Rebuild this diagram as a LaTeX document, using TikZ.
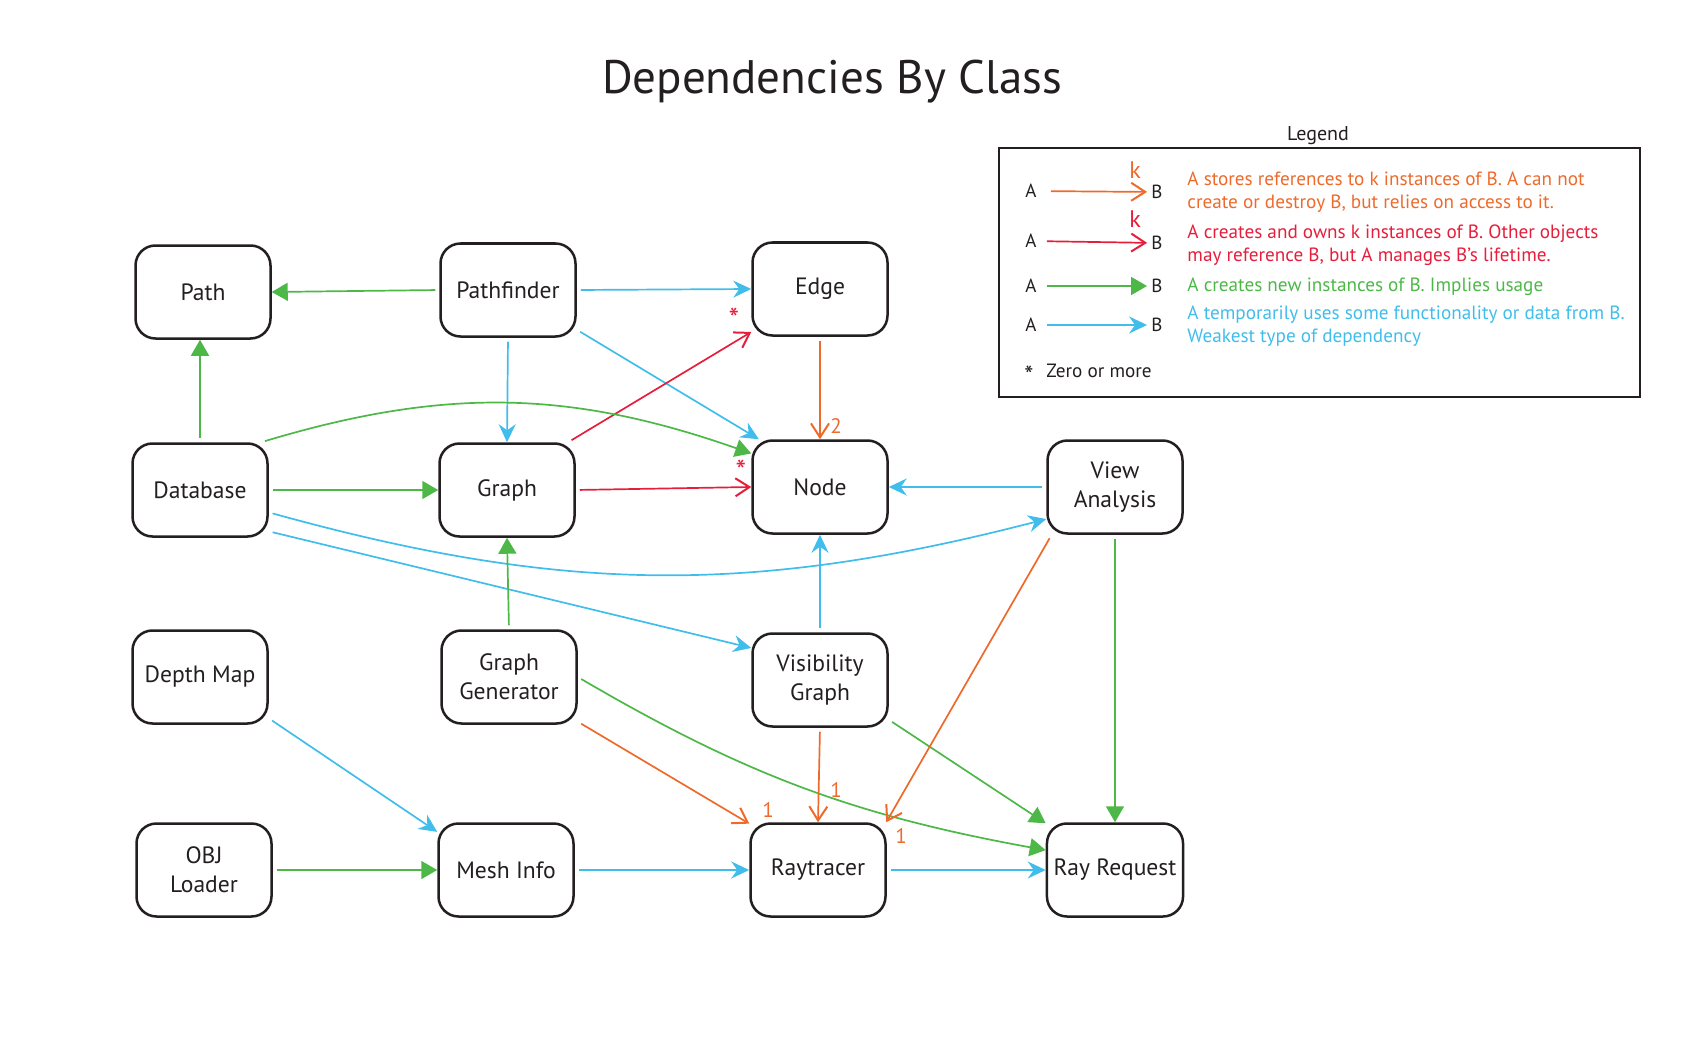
\documentclass[tikz,border=0pt]{standalone}
\usepackage{fontspec}
\setmainfont{PT Sans}
\usetikzlibrary{arrows.meta}
\definecolor{ink}{HTML}{231F20}
\definecolor{dorange}{HTML}{EE6A2B}
\definecolor{dred}{HTML}{E61E3C}
\definecolor{dgreen}{HTML}{4DB848}
\definecolor{dblue}{HTML}{40BDEB}

\begin{document}
\begin{tikzpicture}[
            x = 0.5pt, y = -0.5pt,
            every node/.style={text=ink},
            cls/.style={draw=ink, line width=1.25pt, rounded corners=10pt, minimum width=67.5pt, minimum height=46.5pt, align=center, font=\fontsize{11.8}{14.5}\selectfont},
            line/.style={line width=.85pt, shorten <=2pt},
            refs/.style={line, draw=dorange, -{Straight Barb[length=7pt, width=9pt, line width=1pt]}},
            owns/.style={line, draw=dred, -{Straight Barb[length=7pt, width=9pt, line width=1pt]}},
            makes/.style={line, draw=dgreen, -{Triangle[length=8pt, width=9pt]}},
            uses/.style={line, draw=dblue, -{Stealth[length=9pt, width=8.5pt, inset=3pt]}},
            lbl/.style={font=\fontsize{10.5}{12}\selectfont, inner sep=0pt},
            key/.style={font=\fontsize{9.5}{11}\selectfont, inner sep=0pt},
            legtext/.style={font=\fontsize{9.6}{11.5}\selectfont, align=left, anchor=west, inner sep=0pt},
            ]

        \useasboundingbox (0,0) rectangle (1683,1038);

        \node[font=\fontsize{23.5}{28}\selectfont] (title) at (832,82) {Dependencies By Class};

        \node[cls] (path) at (203,292) {Path};
        \node[cls] (pathfinder) at (508,290) {Pathfinder};
        \node[cls] (graphedge) at (820,289) {Edge};
        \node[cls] (database) at (200,490) {Database};
        \node[cls] (graph) at (507,490) {Graph};
        \node[cls] (graphnode) at (820,487) {Node};
        \node[cls] (view) at (1115,487) {View\\Analysis};
        \node[cls] (depth) at (200,677) {Depth Map};
        \node[cls] (generator) at (509,677) {Graph\\Generator};
        \node[cls] (visibility) at (820,680) {Visibility\\Graph};
        \node[cls] (obj) at (204,870) {OBJ\\Loader};
        \node[cls] (mesh) at (506,870) {Mesh Info};
        \node[cls] (raytracer) at (818,870) {Raytracer};
        \node[cls] (request) at (1115,870) {Ray Request};

        \draw[makes] (pathfinder.west) -- (path.east);
        \draw[uses] (pathfinder.east) -- (graphedge.west);
        \draw[uses] (pathfinder.south) -- (graph.north);
        \draw[uses] (pathfinder.-30) -- (graphnode.142);
        \draw[refs] (graphedge.south) -- (graphnode.north);
        \draw[owns] (graph.38) -- (graphedge.212);
        \draw[owns] (graph.east) -- (graphnode.west);
        \draw[makes] (database.east) -- (graph.west);
        \draw[makes] (database.north) -- (database.north |- path.south);
        \draw[makes] (database.38) to[bend left=18] (graphnode.154);
        \draw[uses] (database.-18) to[bend right=15] (view.205);
        \draw[uses] (database.-31) -- (visibility.155);
        \draw[uses] (view.west) -- (graphnode.east);
        \draw[uses] (visibility.north) -- (graphnode.south);
        \draw[makes] (generator.north) -- (graph.south);
        \draw[refs] (generator.-33) -- (raytracer.146);
        \draw[makes] (generator.east) to[bend right=10] (request.164);
        \draw[refs] (visibility.south) -- (raytracer.north);
        \draw[makes] (visibility.-30) -- (request.146);
        \draw[refs] (view.217) -- (raytracer.35);
        \draw[makes] (view.south) -- (request.north);
        \draw[uses] (depth.-31) -- (mesh.151);
        \draw[makes] (obj.east) -- (mesh.west);
        \draw[uses] (mesh.east) -- (raytracer.west);
        \draw[uses] (raytracer.east) -- (request.west);

        \node[lbl, text=dorange] (two) at (836,426) {2};
        \node[lbl, text=dred, font=\fontsize{15}{15}\selectfont] (star1) at (734,319) {*};
        \node[lbl, text=dred, font=\fontsize{15}{15}\selectfont] (star2) at (741,471) {*};
        \node[lbl, text=dorange] (one1) at (768,810) {1};
        \node[lbl, text=dorange] (one2) at (836,790) {1};
        \node[lbl, text=dorange] (one3) at (901,836) {1};

        \node[key, font=\fontsize{10}{12}\selectfont] (legend) at (1318,136) {Legend};
        \node[draw=ink, line width=1.2pt, minimum width=320.5pt, minimum height=124.5pt] (legendbox) at (1319.5,272.5) {};

        \node[key] (a1) at (1031,191) {A};
        \node[key] (b1) at (1157,192) {B};
        \node[key] (a2) at (1031,241) {A};
        \node[key] (b2) at (1157,243) {B};
        \node[key] (a3) at (1031,286) {A};
        \node[key] (b3) at (1157,286) {B};
        \node[key] (a4) at (1031,325) {A};
        \node[key] (b4) at (1157,325) {B};
        \draw[refs, shorten <=7pt, shorten >=2pt] (a1) -- (b1);
        \draw[owns, shorten <=5pt, shorten >=2pt] (a2) -- (b2);
        \draw[makes, shorten <=5pt, shorten >=2pt] (a3) -- (b3);
        \draw[uses, shorten <=5pt, shorten >=2pt] (a4) -- (b4);
        \node[lbl, text=dorange, font=\fontsize{12}{13}\selectfont] (k1) at (1135,170) {k};
        \node[lbl, text=dred, font=\fontsize{12}{13}\selectfont] (k2) at (1135,219) {k};

        \node[legtext, text=dorange] (t1) at (1187,192) {A stores references to k instances of B. A can not\\create or destroy B, but relies on access to it.};
        \node[legtext, text=dred] (t2) at (1187,245) {A creates and owns k instances of B. Other objects\\may reference B, but A manages B’s lifetime.};
        \node[legtext, text=dgreen] (t3) at (1187,287) {A creates new instances of B. Implies usage};
        \node[legtext, text=dblue] (t4) at (1187,326) {A temporarily uses some functionality or data from B.\\Weakest type of dependency};
        \node[key, font=\fontsize{13}{13}\selectfont] (star) at (1029,375) {*};
        \node[legtext] (zero) at (1046,371) {Zero or more};
    \end{tikzpicture}
\end{document}
